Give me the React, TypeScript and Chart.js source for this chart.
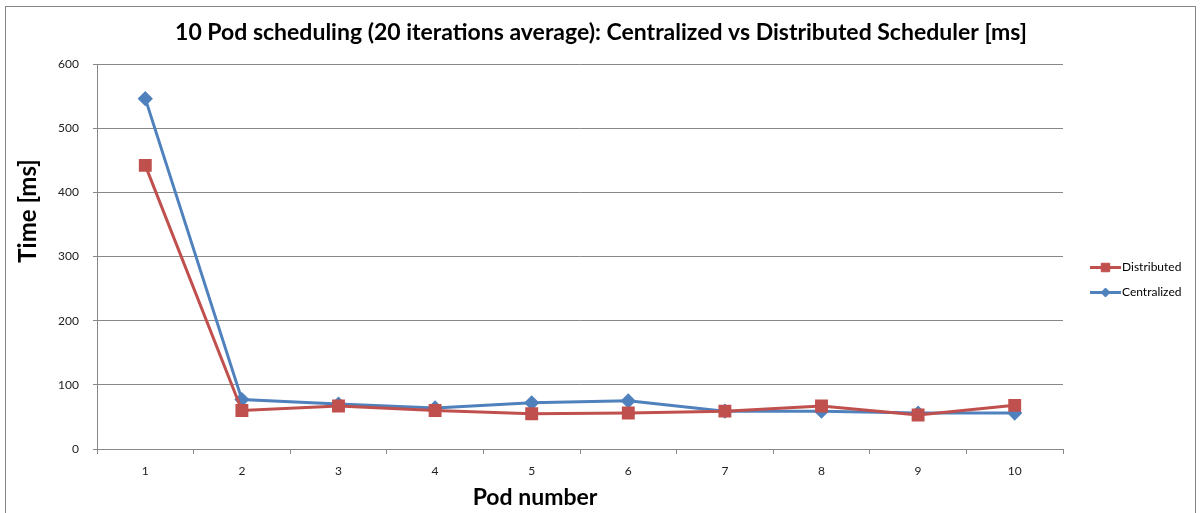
import React, { useEffect, useRef } from 'react';
import { Chart, registerables } from 'chart.js';
import { drawPoint } from 'chart.js/helpers';

Chart.register(...registerables);

const podNumbers = ['1', '2', '3', '4', '5', '6', '7', '8', '9', '10'];
const distributed = [442, 60, 67, 60, 55, 56, 59, 67, 53, 68];
const centralized = [546, 77, 70, 64, 72, 75, 59, 59, 56, 56];
const yMin = 0;
const yMax = 600;
const yStep = 100;
const chartTitle = '10 Pod scheduling (20 iterations average): Centralized vs Distributed Scheduler [ms]';
const xTitle = 'Pod number';
const yTitle = 'Time [ms]';

const FONT = 'Lato, "Open Sans", sans-serif';
const RED = '#C0504D';
const BLUE = '#4F81BD';

const framePlugin = {
  id: 'frame',
  beforeDraw(chart: any) {
    const ctx = chart.ctx;
    ctx.save();
    ctx.fillStyle = '#ffffff';
    ctx.fillRect(0, 0, chart.width, chart.height);
    ctx.strokeStyle = '#868686';
    ctx.lineWidth = 1;
    ctx.strokeRect(5.5, 6.5, 1190, 600);
    ctx.restore();
  },
};

const titlesPlugin = {
  id: 'customTitles',
  afterDraw(chart: any) {
    const ctx = chart.ctx;
    ctx.save();
    ctx.fillStyle = '#000';
    ctx.font = `bold 23px ${FONT}`;
    ctx.textAlign = 'center';
    ctx.textBaseline = 'middle';
    ctx.fillText(chartTitle, 601, 33);
    ctx.fillText(xTitle, 535, 498);
    ctx.translate(28, 211);
    ctx.rotate(-Math.PI / 2);
    ctx.font = `bold 24px ${FONT}`;
    ctx.fillText(yTitle, 0, 0);
    ctx.restore();
  },
};

const legendPlugin = {
  id: 'customLegend',
  afterDraw(chart: any) {
    const ctx = chart.ctx;
    const area = chart.chartArea;
    const x0 = area.right + 27;
    const yc = (area.top + area.bottom) / 2 + 11;
    ctx.save();
    chart.data.datasets.forEach((ds: any, i: number) => {
      const y = yc + i * 25;
      ctx.strokeStyle = ds.borderColor;
      ctx.lineWidth = 3;
      ctx.beginPath();
      ctx.moveTo(x0, y);
      ctx.lineTo(x0 + 31, y);
      ctx.stroke();
      ctx.fillStyle = ds.pointBackgroundColor;
      ctx.strokeStyle = ds.pointBorderColor;
      ctx.lineWidth = 1;
      drawPoint(ctx, { pointStyle: ds.pointStyle, radius: ds.pointRadius - 1, rotation: 0, borderWidth: 1 } as any, x0 + 15.5, y);
      ctx.fillStyle = '#000';
      ctx.font = `12px ${FONT}`;
      ctx.textBaseline = 'middle';
      ctx.textAlign = 'left';
      ctx.fillText(ds.label, x0 + 32, y);
    });
    ctx.restore();
  },
};

export default function App() {
  const ref = useRef<HTMLCanvasElement | null>(null);

  useEffect(() => {
    if (!ref.current) return;
    const chart = new Chart(ref.current, {
      type: 'line',
      data: {
        labels: podNumbers,
        datasets: [
          {
            label: 'Distributed',
            data: distributed,
            borderColor: RED,
            backgroundColor: RED,
            pointBackgroundColor: RED,
            pointBorderColor: RED,
            pointStyle: 'rect',
            pointRadius: 7,
            borderWidth: 3,
            tension: 0,
          },
          {
            label: 'Centralized',
            data: centralized,
            borderColor: BLUE,
            backgroundColor: BLUE,
            pointBackgroundColor: BLUE,
            pointBorderColor: BLUE,
            pointStyle: 'rectRot',
            pointRadius: 5.5,
            borderWidth: 3,
            tension: 0,
          },
        ],
      },
      options: {
        animation: false,
        responsive: false,
        layout: { padding: { left: 0, right: 139, top: 64, bottom: 0 } },
        plugins: {
          legend: { display: false },
          tooltip: { enabled: false },
          title: { display: false },
        },
        scales: {
          x: {
            offset: true,
            grid: { offset: true, drawOnChartArea: false, tickLength: 5, color: '#888' },
            border: { color: '#888' },
            ticks: { color: '#222', font: { family: FONT, size: 12 }, padding: 10 },
            title: { display: false },
            afterFit: (s: any) => {
              s.height = 64;
            },
          },
          y: {
            min: yMin,
            max: yMax,
            grid: { color: '#888', tickLength: 4 },
            border: { color: '#888' },
            ticks: { stepSize: yStep, color: '#222', font: { family: FONT, size: 12 }, padding: 14 },
            title: { display: false },
            afterFit: (s: any) => {
              s.width = 97;
            },
          },
        },
      },
      plugins: [framePlugin, titlesPlugin, legendPlugin],
    });
    return () => chart.destroy();
  }, []);

  return (
    <div style={{ position: 'absolute', left: 0, top: 0, width: 1202, height: 513 }}>
      <canvas ref={ref} width={1202} height={513} style={{ width: 1202, height: 513 }} />
    </div>
  );
}
